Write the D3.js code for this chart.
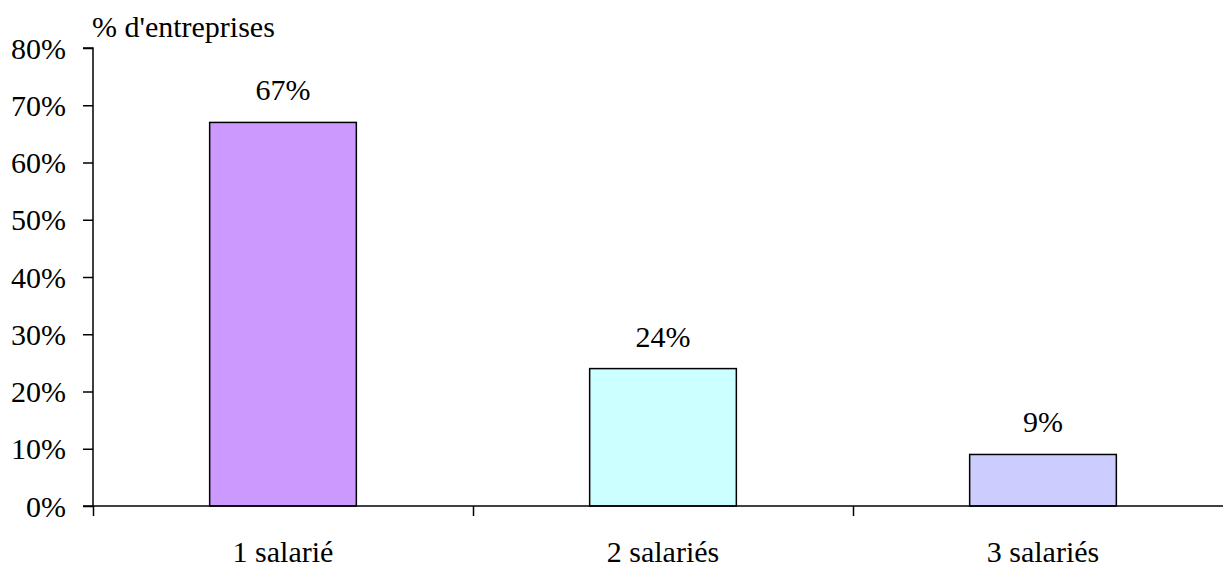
<!DOCTYPE html>
<html><head><meta charset="utf-8"><script src="https://cdn.jsdelivr.net/npm/d3@7"></script></head>
<body style="margin:0">
<svg id="s" width="1223" height="568" font-family="Liberation Serif" style="font-family: 'Liberation Serif'"></svg>
<script>
const categories = ["1 salarié", "2 salariés", "3 salariés"];
const values = [67, 24, 9];
const colors = ["#CC99FF", "#CCFFFF", "#CCCCFF"];
const yTicks = [0, 10, 20, 30, 40, 50, 60, 70, 80];
const yTitle = "% d'entreprises";

(function () {
const svg = d3.select("#s");
const mLeft = 93, mTop = 48, mBottom = 506, bandW = 380;
const mRight = mLeft + bandW * categories.length;
const fsz = 30;

function styleText(sel) {
  return sel.attr("font-size", fsz)
    .style("font-family", '"Liberation Serif"');
}

const x = d3.scaleBand().domain(categories).range([mLeft, mRight]).paddingInner(0.614).paddingOuter(0.307);
const y = d3.scaleLinear().domain([0, 80]).range([mBottom, mTop]);

// text first
styleText(svg.append("text").attr("x", 92).attr("y", 37)).text(yTitle);

styleText(svg.selectAll("text.ytick").data(yTicks).enter().append("text")
  .attr("class", "ytick")
  .attr("x", mLeft - 27)
  .attr("y", d => y(d))
  .attr("dy", "0.35em")
  .attr("text-anchor", "end"))
  .text(d => d + "%");

styleText(svg.selectAll("text.cat").data(categories).enter().append("text")
  .attr("class", "cat")
  .attr("x", d => x(d) + x.bandwidth() / 2)
  .attr("y", 562)
  .attr("text-anchor", "middle"))
  .text(d => d);

styleText(svg.selectAll("text.val").data(values).enter().append("text")
  .attr("class", "val")
  .attr("x", (d, i) => x(categories[i]) + x.bandwidth() / 2)
  .attr("y", d => y(d) - 22)
  .attr("text-anchor", "middle"))
  .text(d => d + "%");

svg.selectAll("rect.bar").data(values).enter().append("rect")
  .attr("class", "bar")
  .attr("x", (d, i) => x(categories[i]))
  .attr("width", x.bandwidth())
  .attr("y", d => y(d))
  .attr("height", d => y(0) - y(d))
  .attr("fill", (d, i) => colors[i])
  .attr("stroke", "#000")
  .attr("stroke-width", 1.5);

const gy = svg.append("g").attr("transform", `translate(${mLeft},0)`)
  .call(d3.axisLeft(y).tickValues(yTicks).tickSize(10).tickFormat(""));
gy.attr("font-family", null).attr("font-size", null);
gy.select(".domain").attr("stroke", "#000").attr("stroke-width", 1.5).attr("d", `M-10,${mTop}H0V${mBottom}H-10`);
gy.selectAll(".tick line").attr("stroke", "#000").attr("stroke-width", 1.5);
gy.selectAll(".tick text").remove();

const xb = d3.scaleLinear().domain([0, categories.length]).range([mLeft, mRight]);
const gx = svg.append("g").attr("transform", `translate(0,${mBottom})`)
  .call(d3.axisBottom(xb).tickValues(d3.range(0, categories.length + 1)).tickSize(10).tickFormat(""));
gx.attr("font-family", null).attr("font-size", null);
gx.select(".domain").attr("stroke", "#000").attr("stroke-width", 1.5).attr("d", `M${mLeft},0H${mRight}`);
gx.selectAll(".tick line").attr("stroke", "#000").attr("stroke-width", 1.5);
gx.selectAll(".tick text").remove();
})();
</script></body></html>
